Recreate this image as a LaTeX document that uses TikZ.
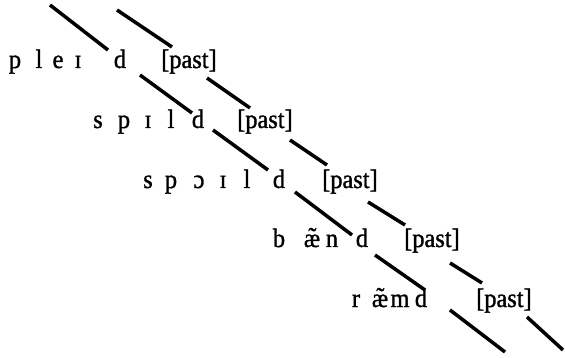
\documentclass[tikz,border=0pt]{standalone}
\usepackage{fontspec}
\setmainfont[FakeStretch=0.92,FakeBold=1.2]{Liberation Serif}
\begin{document}
\begin{tikzpicture}[x=1pt,y=1pt,
  seg/.style={line width=3.5pt},
  ph/.style={anchor=base,inner sep=0pt,font=\fontsize{26.5}{30}\selectfont},
  tag/.style={anchor=base west,inner sep=0pt,font=\fontsize{26.5}{30}\selectfont}]
\useasboundingbox (0,0) rectangle (565,-358);
% row 1
\node[ph] (a1) at (15,-68) {p};
\node[ph] (a2) at (39,-68) {l};
\node[ph] (a3) at (58,-68) {e};
\node[ph] (a4) at (78,-68) {ɪ};
\node[ph] (a5) at (120,-68) {d};
\node[tag] (ap) at (161,-68) {[past]};
% row 2
\node[ph] (b1) at (98,-128) {s};
\node[ph] (b2) at (124,-128) {p};
\node[ph] (b3) at (148,-128) {ɪ};
\node[ph] (b4) at (171,-128) {l};
\node[ph] (b5) at (198,-128) {d};
\node[tag] (bp) at (237,-128) {[past]};
% row 3
\node[ph] (c1) at (148,-188) {s};
\node[ph] (c2) at (171,-188) {p};
\node[ph] (c3) at (199,-188) {ɔ};
\node[ph] (c4) at (223,-188) {ɪ};
\node[ph] (c5) at (247,-188) {l};
\node[ph] (c6) at (279,-188) {d};
\node[tag] (cp) at (322,-188) {[past]};
% row 4
\node[ph] (d1) at (279,-247) {b};
\node[ph] (d2) at (312,-247) {æ̃};
\node[ph] (d3) at (332,-247) {n};
\node[ph] (d4) at (362,-247) {d};
\node[tag] (dp) at (404,-247) {[past]};
% row 5
\node[ph] (e1) at (356,-307) {r};
\node[ph] (e2) at (380,-307) {æ̃};
\node[ph] (e3) at (400,-307) {m};
\node[ph] (e4) at (421,-307) {d};
\node[tag] (ep) at (476,-307) {[past]};
% left line segments
\coordinate (L0a) at (50,-5);   \coordinate (L0b) at (108,-50);
\coordinate (L1a) at (140,-75); \coordinate (L1b) at (192,-113);
\coordinate (L2a) at (213,-130);\coordinate (L2b) at (268,-170);
\coordinate (L3a) at (295,-192);\coordinate (L3b) at (352,-235);
\coordinate (L4a) at (375,-255);\coordinate (L4b) at (425,-290);
\coordinate (L5a) at (450,-310);\coordinate (L5b) at (505,-352);
% right line segments
\coordinate (R0a) at (117,-10); \coordinate (R0b) at (172,-47);
\coordinate (R1a) at (207,-78); \coordinate (R1b) at (250,-108);
\coordinate (R2a) at (290,-140);\coordinate (R2b) at (327,-165);
\coordinate (R3a) at (368,-202);\coordinate (R3b) at (405,-225);
\coordinate (R4a) at (450,-263);\coordinate (R4b) at (482,-283);
\coordinate (R5a) at (527,-317);\coordinate (R5b) at (563,-350);
\foreach \i in {0,...,5}{
  \draw[seg] (L\i a) -- (L\i b);
  \draw[seg] (R\i a) -- (R\i b);
}
\end{tikzpicture}
\end{document}
